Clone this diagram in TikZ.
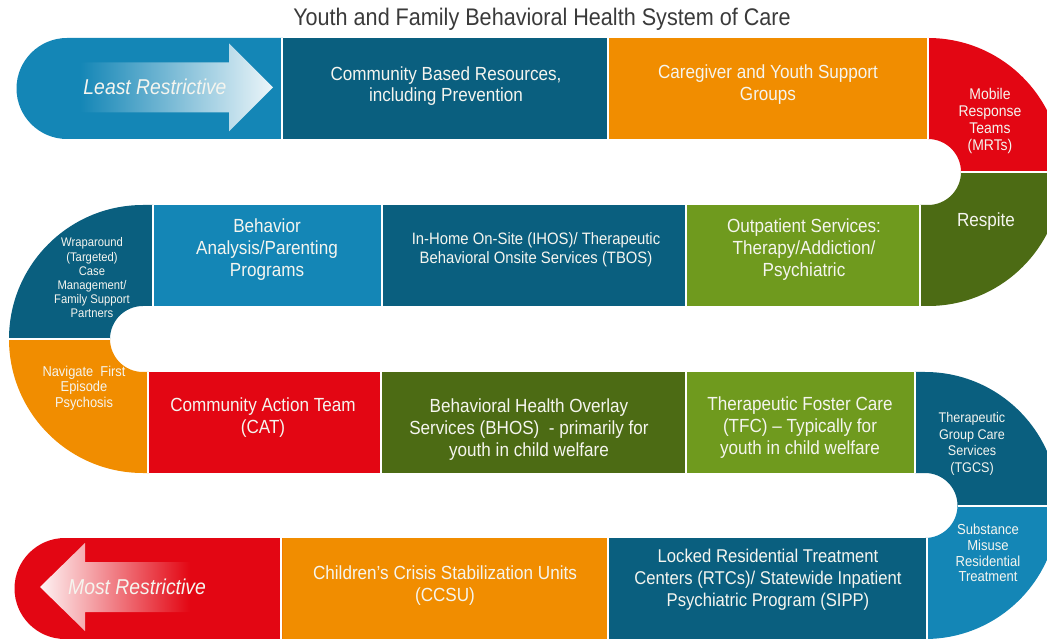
\documentclass[tikz,border=0pt]{standalone}
\usepackage{fontspec}
\setmainfont{Liberation Sans}[FakeStretch=0.9]
\definecolor{lblue}{HTML}{1486B6}
\definecolor{dblue}{HTML}{0A5F7F}
\definecolor{orng}{HTML}{F18D00}
\definecolor{rred}{HTML}{E30613}
\definecolor{dgreen}{HTML}{4C6B14}
\definecolor{lgreen}{HTML}{6F9A1E}
\definecolor{txt}{HTML}{F5F5EF}
\definecolor{ttl}{HTML}{3A3A3A}
\tikzset{
  lbl/.style={text=txt, align=center, inner sep=0pt},
  sepline/.style={draw=white, line width=2pt},
  big/.style={font=\fontsize{19}{22}\selectfont},
}
\begin{document}
\begin{tikzpicture}[x=1pt,y=1pt]
\useasboundingbox (0,0) rectangle (1047,638);
\clip (0,0) rectangle (1047,638);
% ---------- Row 1 ----------
\fill[lblue] (283,600) -- (67,600) arc[start angle=90,end angle=270,radius=50.5] -- (283,499) -- cycle;
\fill[dblue] (281,499) rectangle (609,600);
\fill[orng] (607,499) rectangle (929,600);
\fill[rred] (928,600) arc[start angle=90,end angle=0,radius=134] -- (961,466) arc[start angle=0,end angle=90,radius=33] -- cycle;
% ---------- Row 2 ----------
\fill[dgreen] (920,332) -- (928,332) arc[start angle=-90,end angle=0,radius=134] -- (961,466) arc[start angle=0,end angle=-90,radius=33] -- (920,433) -- cycle;
\fill[lgreen] (686,332) rectangle (921,433);
\fill[dblue] (382,332) rectangle (687,433);
\fill[lblue] (152,332) rectangle (383,433);
\fill[dblue] (153,433) -- (143,433) arc[start angle=90,end angle=180,radius=134] -- (110,299) arc[start angle=180,end angle=90,radius=33] -- (153,332) -- cycle;
% ---------- Row 3 ----------
\fill[orng] (149,165) -- (143,165) arc[start angle=-90,end angle=-180,radius=134] -- (110,299) arc[start angle=180,end angle=270,radius=33] -- (149,266) -- cycle;
\fill[rred] (148,165) rectangle (382,266);
\fill[dgreen] (381,165) rectangle (687,266);
\fill[lgreen] (686,165) rectangle (916,266);
\fill[dblue] (915,266) -- (925,266) arc[start angle=90,end angle=0,radius=133.5] -- (957.5,132.5) arc[start angle=0,end angle=90,radius=32.5] -- (915,165) -- cycle;
% ---------- Row 4 ----------
\fill[lblue] (925,-1) arc[start angle=-90,end angle=0,radius=133.5] -- (957.5,132.5) arc[start angle=0,end angle=-90,radius=32.5] -- cycle;
\fill[dblue] (607,-1) rectangle (928,100);
\fill[orng] (280,-1) rectangle (609,100);
\fill[rred] (282,100) -- (65,100) arc[start angle=90,end angle=270,radius=50.5] -- (282,-1) -- cycle;
% ---------- separators ----------
\draw[sepline] (282,499) -- (282,600);
\draw[sepline] (608,499) -- (608,600);
\draw[sepline] (928,499) -- (928,600);
\draw[sepline] (961,466) -- (1070,466);
\draw[sepline] (920,332) -- (920,433);
\draw[sepline] (686,332) -- (686,433);
\draw[sepline] (382,332) -- (382,433);
\draw[sepline] (152.5,332) -- (152.5,433);
\draw[sepline] (0,299) -- (110,299);
\draw[sepline] (148,165) -- (148,266);
\draw[sepline] (381,165) -- (381,266);
\draw[sepline] (686,165) -- (686,266);
\draw[sepline] (915,165) -- (915,266);
\draw[sepline] (957.5,132.5) -- (1070,132.5);
\draw[sepline] (281,-1) -- (281,100);
\draw[sepline] (608,-1) -- (608,100);
\draw[sepline] (927,-1) -- (927,100);
% ---------- arrows ----------
\shade[left color=lblue, right color=white!92!lblue] (80,575.5) -- (229,575.5) -- (229,594.5) -- (273,550.5) -- (229,506.5) -- (229,525.5) -- (80,525.5) -- cycle;
\shade[left color=white!95!rred, right color=rred] (40,51) -- (85,95) -- (85,76) -- (190,76) -- (190,26) -- (85,26) -- (85,7) -- cycle;
% ---------- texts ----------
\node[text=ttl, inner sep=0pt, font=\fontsize{24}{28}\selectfont] (title) at (542,619) {Youth and Family Behavioral Health System of Care};
\node[lbl, font=\fontsize{21.5}{24}\selectfont\itshape] (least) at (155,551) {Least Restrictive};
\node[lbl, font=\fontsize{19}{21}\selectfont] (comm) at (446,552) {Community Based Resources,\\including Prevention};
\node[lbl, big] (care) at (768,553) {Caregiver and Youth Support\\Groups};
\node[lbl, font=\fontsize{15.5}{17}\selectfont] (mrt) at (990,517) {Mobile\\Response\\Teams\\(MRTs)};
\node[lbl, big] (respite) at (986,416) {Respite};
\node[lbl, font=\fontsize{12.5}{14.2}\selectfont] (wrap) at (92,360) {Wraparound\\(Targeted)\\Case\\Management/\\Family Support\\Partners};
\node[lbl, big] (behav) at (267,388) {Behavior\\Analysis/Parenting\\Programs};
\node[lbl, font=\fontsize{16.5}{19}\selectfont] (ihos) at (536,388) {In-Home On-Site (IHOS)/ Therapeutic\\Behavioral Onsite Services (TBOS)};
\node[lbl, big] (outp) at (804,388) {Outpatient Services:\\Therapy/Addiction/\\Psychiatric};
\node[lbl, font=\fontsize{14.3}{15.5}\selectfont] (nav) at (84,250) {Navigate~ First\\Episode\\Psychosis};
\node[lbl, big] (cat) at (263,220) {Community Action Team\\(CAT)};
\node[lbl, big] (bhos) at (529,208) {Behavioral Health Overlay\\Services (BHOS)~ - primarily for\\youth in child welfare};
\node[lbl, big] (tfc) at (800,210) {Therapeutic Foster Care\\(TFC) – Typically for\\youth in child welfare};
\node[lbl, font=\fontsize{14}{16.7}\selectfont] (tgcs) at (972,194) {Therapeutic\\Group Care\\Services\\(TGCS)};
\node[lbl, font=\fontsize{14.5}{15.8}\selectfont] (subst) at (988,85) {Substance\\Misuse\\Residential\\Treatment};
\node[lbl, font=\fontsize{21.5}{24}\selectfont\itshape] (most) at (137,51) {Most Restrictive};
\node[lbl, big] (ccsu) at (445,52) {Children’s Crisis Stabilization Units\\(CCSU)};
\node[lbl, font=\fontsize{18.5}{22}\selectfont] (locked) at (768,58) {Locked Residential Treatment\\Centers (RTCs)/ Statewide Inpatient\\Psychiatric Program (SIPP)};
\end{tikzpicture}
\end{document}
